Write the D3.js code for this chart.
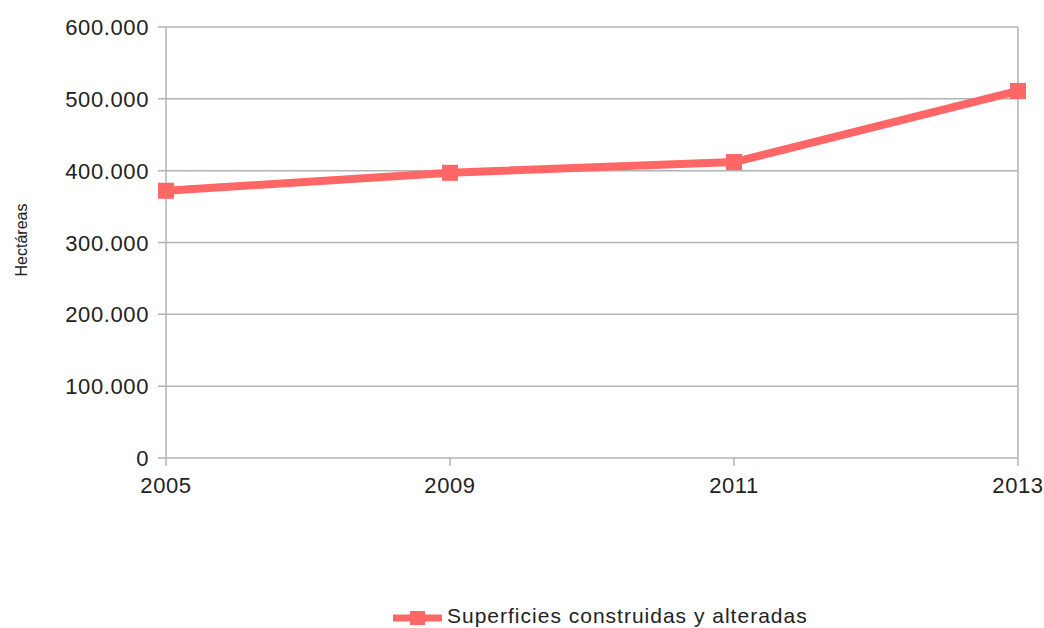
<!DOCTYPE html>
<html>
<head>
<meta charset="utf-8">
<script src="https://cdn.jsdelivr.net/npm/d3@7"></script>
<style>
body{margin:0;background:#fff;overflow:hidden;}
text{font-family:"Liberation Sans",Arial,sans-serif;fill:#222;}
</style>
</head>
<body>
<svg id="chart"></svg>
<script>
// data
var years = ["2005","2009","2011","2013"];
var hectares = [372000, 397000, 412000, 511000];
var yTicks = [0,100000,200000,300000,400000,500000,600000];
var seriesName = "Superficies construidas y alteradas";

var screen = {width:1044,height:628};
var margins = {left:166,right:26,top:27,bottom:170};
var graph = {
    width:screen.width-margins.left-margins.right,
    height:screen.height-margins.top-margins.bottom
};

var svg = d3.select("#chart")
    .attr("width",screen.width)
    .attr("height",screen.height)
    .style("display","block");

var xScale = d3.scalePoint()
    .domain(years)
    .range([0,graph.width]);

var yScale = d3.scaleLinear()
    .domain([0,600000])
    .range([graph.height,0]);

var fmt = function(v){
    return v==0 ? "0" : d3.format(",")(v).replace(/,/g,".");
};

var target = svg.append("g")
    .attr("transform","translate("+margins.left+","+margins.top+")");

// horizontal grid
target.append("g")
    .selectAll("line")
    .data(yTicks)
    .enter()
    .append("line")
    .attr("x1",-8)
    .attr("x2",graph.width)
    .attr("y1",function(d){return yScale(d);})
    .attr("y2",function(d){return yScale(d);})
    .attr("stroke","#b3b3b3")
    .attr("stroke-width",1.5);

// vertical lines at left and right + x ticks
target.append("g")
    .selectAll("line")
    .data(years)
    .enter()
    .append("line")
    .attr("x1",function(d){return xScale(d);})
    .attr("x2",function(d){return xScale(d);})
    .attr("y1",function(d,i){return (i==0||i==years.length-1) ? 0 : graph.height;})
    .attr("y2",graph.height+8)
    .attr("stroke","#b3b3b3")
    .attr("stroke-width",1.5);

// y labels
target.append("g")
    .selectAll("text")
    .data(yTicks)
    .enter()
    .append("text")
    .attr("x",-17)
    .attr("y",function(d){return yScale(d)+8;})
    .attr("text-anchor","end")
    .style("font-size","22px")
    .style("letter-spacing","0.6px")
    .text(fmt);

// x labels
target.append("g")
    .selectAll("text")
    .data(years)
    .enter()
    .append("text")
    .attr("x",function(d){return xScale(d);})
    .attr("y",graph.height+35)
    .attr("text-anchor","middle")
    .style("font-size","22px")
    .style("letter-spacing","0.6px")
    .text(function(d){return d;});

// line
var line = d3.line()
    .x(function(d,i){return xScale(years[i]);})
    .y(function(d){return yScale(d);});

target.append("path")
    .datum(hectares)
    .attr("d",line)
    .attr("fill","none")
    .attr("stroke","#ff6666")
    .attr("stroke-width",8);

target.append("g")
    .selectAll("rect")
    .data(hectares)
    .enter()
    .append("rect")
    .attr("x",function(d,i){return xScale(years[i])-8;})
    .attr("y",function(d){return yScale(d)-8;})
    .attr("width",16)
    .attr("height",16)
    .attr("fill","#ff6666");

// axis title
svg.append("text")
    .attr("transform","translate(27,240) rotate(-90)")
    .attr("text-anchor","middle")
    .style("font-size","16px")
    .text("Hectáreas");

// legend
var legend = svg.append("g")
    .attr("transform","translate(393,618)");
legend.append("line")
    .attr("x1",0).attr("x2",49)
    .attr("y1",0).attr("y2",0)
    .attr("stroke","#ff6666")
    .attr("stroke-width",7);
legend.append("rect")
    .attr("x",17).attr("y",-7)
    .attr("width",15).attr("height",14)
    .attr("fill","#ff6666");
legend.append("text")
    .attr("x",54)
    .attr("y",5)
    .style("font-size","21px")
    .style("letter-spacing","1px")
    .text(seriesName);
</script>
</body>
</html>
